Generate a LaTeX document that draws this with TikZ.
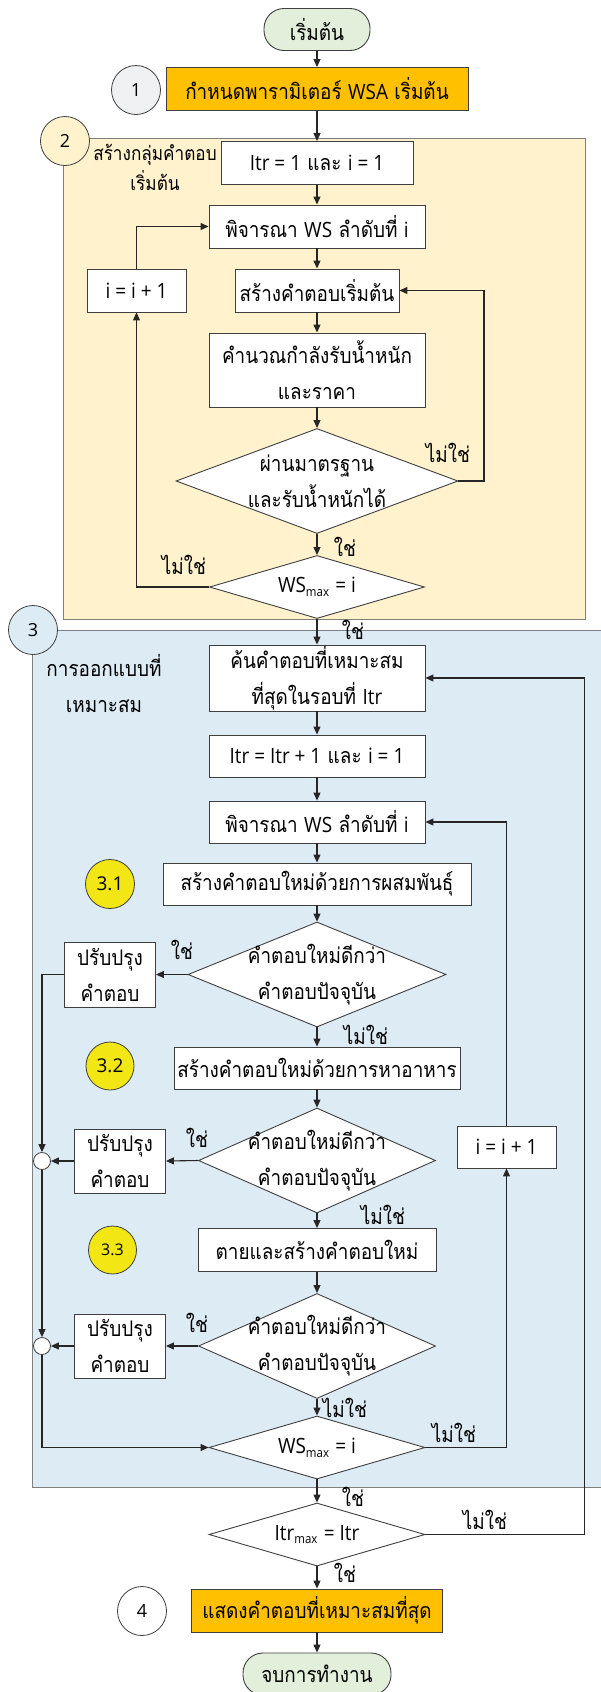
\documentclass[tikz,border=0pt]{standalone}
\usepackage{fontspec}
\setmainfont{Loma}[Script=Thai, FakeStretch=0.88]
\newfontfamily\latf{Open Sans}[Scale=0.98, FakeStretch=0.9]
\newfontfamily\numf{Open Sans}
\usetikzlibrary{shapes.geometric,arrows.meta}
\definecolor{lnc}{HTML}{262626}
\definecolor{bordc}{HTML}{3F3F3F}
\definecolor{regc}{HTML}{7F7F7F}
\definecolor{termc}{HTML}{E2EFDA}
\definecolor{orng}{HTML}{FFC000}
\definecolor{ylw}{HTML}{FFF2CC}
\definecolor{blu}{HTML}{DDEBF5}
\definecolor{cgray}{HTML}{F0F1F3}
\definecolor{cyel}{HTML}{F2E614}
\newcommand\fsz{\fontsize{21.5}{36}\selectfont}
\newcommand\la[1]{{\latf #1}}
\newcommand\fsub[1]{\raisebox{-0.35ex}{\latf\fontsize{13}{13}\selectfont #1}}
\begin{document}
\begin{tikzpicture}[x=1pt,y=-1pt,
  every node/.style={font=\fsz, text=black},
  pbox/.style={draw=bordc, line width=0.9pt, fill=white, minimum height=43pt, inner sep=0pt, align=center},
  term/.style={draw=bordc, line width=0.9pt, fill=termc, rounded corners=20pt, minimum height=42pt, inner sep=0pt},
  dia/.style={diamond, draw=bordc, line width=0.9pt, fill=white, inner sep=0pt},
  numc/.style={circle, draw=bordc, line width=0.8pt, minimum size=49pt, inner sep=0pt, font=\numf\fontsize{18}{18}\selectfont},
  smc/.style={circle, draw=bordc, line width=0.8pt, fill=white, minimum size=17pt, inner sep=0pt},
  lbl/.style={inner sep=0pt},
  arr/.style={draw=lnc, line width=1.1pt, -{Triangle[length=8pt,width=7pt]}},
  regb/.style={draw=regc, line width=1pt}
]
\useasboundingbox (0,0) rectangle (601,1692);
% regions
\fill[ylw] (63,138) rectangle (585,619);
\draw[regb] (63,138) rectangle (585,619);
\fill[blu] (32.6,630) rectangle (601,1487);
\draw[regb] (601,630) -- (32.6,630) -- (32.6,1487) -- (601,1487);

% top part
\node[term, minimum width=106pt] (start) at (317,29.5) {เริ่มต้น};
\node[pbox, fill=orng, minimum width=302pt] (b1) at (317,89) {กำหนดพารามิเตอร์ \la{WSA} เริ่มต้น};
\node[numc, fill=cgray] (n1) at (136,90) {1};
\node[numc, fill=ylw] (n2) at (65,141) {2};
\node[lbl, align=center, font=\fontsize{19.5}{30}\selectfont] (t2) at (155,167) {สร้างกลุ่มคำตอบ\\เริ่มต้น};

\node[pbox, minimum width=192pt] (itr1) at (317,163) {\la{Itr = 1} และ \la{i = 1}};
\node[pbox, minimum width=216pt] (pj1) at (317,226.5) {พิจารณา \la{WS} ลำดับที่ \la{i}};
\node[pbox, minimum width=99pt] (ii1) at (136.5,290.5) {\la{i = i + 1}};
\node[pbox, minimum width=164pt] (sk) at (317,290.5) {สร้างคำตอบเริ่มต้น};
\node[pbox, minimum width=216pt, minimum height=74pt] (calc) at (317,370) {คำนวณกำลังรับน้ำหนัก\\และราคา};
\node[dia, minimum width=282pt, minimum height=105pt] (d1) at (317,481) {};
\node[lbl, align=center] at (d1) {ผ่านมาตรฐาน\\และรับน้ำหนักได้};
\node[dia, minimum width=215pt, minimum height=63pt] (ws1) at (317,587) {};
\node[lbl] at (ws1) {\la{WS}\fsub{max} \la{= i}};

% blue part
\node[numc, fill=blu] (n3) at (33,630) {3};
\node[lbl, align=center] (t3) at (104,683) {การออกแบบที่\\เหมาะสม};
\node[pbox, minimum width=216pt, minimum height=66pt] (kn) at (317,678) {ค้นคำตอบที่เหมาะสม\\ที่สุดในรอบที่ \la{Itr}};
\node[pbox, minimum width=216pt, minimum height=42pt] (itr2) at (317,756) {\la{Itr = Itr + 1} และ \la{i = 1}};
\node[pbox, minimum width=216pt, minimum height=42pt] (pj2) at (317,822) {พิจารณา \la{WS} ลำดับที่ \la{i}};
\node[pbox, minimum width=308pt, minimum height=42pt] (ps) at (317,884) {สร้างคำตอบใหม่ด้วยการผสมพันธุ์};
\node[numc, fill=cyel, minimum size=49pt, font=\numf\fontsize{19}{19}\selectfont] (n31) at (110,884) {3.1};
\node[dia, minimum width=258pt, minimum height=105pt] (dA) at (317,974.5) {};
\node[lbl, align=center] at (dA) {คำตอบใหม่ดีกว่า\\คำตอบปัจจุบัน};
\node[pbox, minimum width=91pt, minimum height=65pt] (pA) at (110,974.5) {ปรับปรุง\\คำตอบ};
\node[pbox, minimum width=286pt, minimum height=42pt] (hA) at (317,1068) {สร้างคำตอบใหม่ด้วยการหาอาหาร};
\node[numc, fill=cyel, minimum size=48pt, font=\numf\fontsize{19}{19}\selectfont] (n32) at (110,1066) {3.2};
\node[dia, minimum width=237pt, minimum height=105pt] (dB) at (317,1160.5) {};
\node[lbl, align=center] at (dB) {คำตอบใหม่ดีกว่า\\คำตอบปัจจุบัน};
\node[pbox, minimum width=91pt, minimum height=64pt] (pB) at (120,1161) {ปรับปรุง\\คำตอบ};
\node[smc] (jB) at (42,1161) {};
\node[pbox, minimum width=99pt, minimum height=42pt] (ii2) at (506.5,1147) {\la{i = i + 1}};
\node[pbox, minimum width=238pt, minimum height=43pt] (ty) at (317,1250) {ตายและสร้างคำตอบใหม่};
\node[numc, fill=cyel, minimum size=48pt, font=\numf\fontsize{16}{16}\selectfont] (n33) at (112.5,1250) {3.3};
\node[dia, minimum width=237pt, minimum height=105pt] (dC) at (317,1346) {};
\node[lbl, align=center] at (dC) {คำตอบใหม่ดีกว่า\\คำตอบปัจจุบัน};
\node[pbox, minimum width=91pt, minimum height=64pt] (pC) at (120,1346) {ปรับปรุง\\คำตอบ};
\node[smc] (jC) at (42,1346) {};
\node[dia, minimum width=216pt, minimum height=63pt] (ws2) at (317,1447.5) {};
\node[lbl] at (ws2) {\la{WS}\fsub{max} \la{= i}};

% bottom
\node[dia, minimum width=216pt, minimum height=63pt] (im) at (317,1534.5) {};
\node[lbl] at (im) {\la{Itr}\fsub{max} \la{= Itr}};
\node[pbox, fill=orng, minimum width=251pt, minimum height=43pt] (b4) at (317,1610.5) {แสดงคำตอบที่เหมาะสมที่สุด};
\node[numc, fill=white] (n4) at (142,1611) {4};
\node[term, minimum width=148pt] (stop) at (317,1674) {จบการทำงาน};

% connectors
\draw[arr] (start) -- (b1);
\draw[arr] (b1) -- (itr1);
\draw[arr] (itr1) -- (pj1);
\draw[arr] (pj1) -- (sk);
\draw[arr] (sk) -- (calc);
\draw[arr] (calc) -- (d1);
\draw[arr] (d1) -- (ws1);
\coordinate (r1) at (484,481);
\draw[arr] (d1.east) -- (r1) |- (sk.east);
\draw[arr] (ws1.west) -| (ii1.south);
\draw[arr] (ii1.north) |- (pj1.west);
\draw[arr] (ws1) -- (kn);
\draw[arr] (kn) -- (itr2);
\draw[arr] (itr2) -- (pj2);
\draw[arr] (pj2) -- (ps);
\draw[arr] (ps) -- (dA);
\draw[arr] (dA) -- (hA);
\draw[arr] (hA) -- (dB);
\draw[arr] (dB) -- (ty);
\draw[arr] (ty) -- (dC);
\draw[arr] (dC) -- (ws2);
\draw[arr] (dA.west) -- (pA.east);
\draw[arr] (dB.west) -- (pB.east);
\draw[arr] (dC.west) -- (pC.east);
\draw[arr] (pB.west) -- (jB.east);
\draw[arr] (pC.west) -- (jC.east);
\draw[arr] (pA.west) -| (jB.north);
\draw[arr] (jB.south) -- (jC.north);
\draw[arr] (jC.south) |- (ws2.west);
\draw[arr] (ws2.east) -| (ii2.south);
\draw[arr] (ii2.north) |- (pj2.east);
\draw[arr] (ws2) -- (im);
\coordinate (r3) at (584.5,1534.5);
\draw[arr] (im.east) -- (r3) |- (kn.east);
\draw[arr] (im) -- (b4);
\draw[arr] (b4) -- (stop);

% labels
\node[lbl] at (448,453) {ไม่ใช่};
\node[lbl] at (345,547) {ใช่};
\node[lbl] at (184,565) {ไม่ใช่};
\node[lbl] at (353,630) {ใช่};
\node[lbl] at (182,950) {ใช่};
\node[lbl] at (366,1035) {ไม่ใช่};
\node[lbl] at (197,1138) {ใช่};
\node[lbl] at (383,1215) {ไม่ใช่};
\node[lbl] at (197,1323) {ใช่};
\node[lbl] at (345,1408) {ไม่ใช่};
\node[lbl] at (454,1433) {ไม่ใช่};
\node[lbl] at (353,1497) {ใช่};
\node[lbl] at (485,1520) {ไม่ใช่};
\node[lbl] at (345,1573) {ใช่};
\end{tikzpicture}
\end{document}
